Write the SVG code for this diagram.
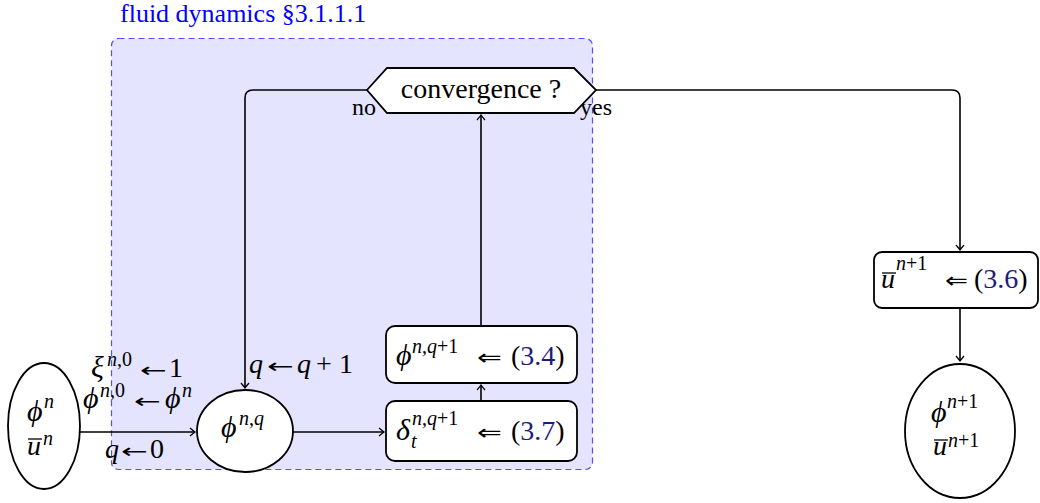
<svg xmlns="http://www.w3.org/2000/svg" width="1040" height="503" viewBox="0 0 1040 503" font-family="'Liberation Serif', 'Times New Roman', serif">
<defs>
<marker id="arr" viewBox="-6 -5 8 10" markerWidth="8" markerHeight="10" refX="0" refY="0" orient="auto" markerUnits="userSpaceOnUse">
<path d="M-5,-4 Q-1.5,-1 0,0 Q-1.5,1 -5,4" fill="none" stroke="#000" stroke-width="1.3"/>
</marker>
</defs>
<style>
text{font-family:"Liberation Serif","Times New Roman",serif;fill:#000}
.t{font-size:28px}
.g{font-size:30px;font-style:italic}
.i{font-style:italic}
.s{font-size:20px}
.a{font-family:"DejaVu Sans",sans-serif;font-size:22px}
.b{font-family:"DejaVu Sans",sans-serif;font-size:20px}
.ref{fill:#1c1c80}
.ln{fill:none;stroke:#000;stroke-width:1.6}
.ob{fill:#fff;stroke:#000;stroke-width:1.8}
.ol{stroke:#000;stroke-width:1.3}
</style>
<rect width="1040" height="503" fill="#fff"/>
<g id="cluster">
<rect x="111.5" y="38.5" width="481" height="431" rx="7" fill="#e4e4ff" stroke="#5050ff" stroke-width="1.2" stroke-dasharray="6,4"/>
<text x="120" y="22" style="font-size:26px;fill:#0000ff">fluid dynamics §3.1.1.1</text>
</g>
<g id="connectors">
<path class="ln" d="M80,432 H195" marker-end="url(#arr)"/>
<path class="ln" d="M367,90 H253 Q245,90 245,98 V388" marker-end="url(#arr)"/>
<path class="ln" d="M293,432 H384" marker-end="url(#arr)"/>
<path class="ln" d="M481,401 V385" marker-end="url(#arr)"/>
<path class="ln" d="M481,326 V115" marker-end="url(#arr)"/>
<path class="ln" d="M596,90 H952 Q960,90 960,98 V250" marker-end="url(#arr)"/>
<path class="ln" d="M960,308 V361" marker-end="url(#arr)"/>
<text x="352" y="115" style="font-size:24px">no</text>
<text x="580" y="115" style="font-size:24px">yes</text>
<text class="t" y="377"><tspan x="91" class="g">ξ</tspan><tspan x="107" y="366" class="s"><tspan class="i">n</tspan>,0</tspan></text>
<text class="b" transform="translate(140,377) scale(1.6,1)">←</text>
<text x="169" y="377" class="t">1</text>
<text class="t" y="408"><tspan x="83" class="g">ϕ</tspan><tspan x="100" y="397" class="s"><tspan class="i">n</tspan>,0</tspan></text>
<text class="b" transform="translate(134,408) scale(1.6,1)">←</text>
<text class="t" y="408"><tspan x="165" class="g">ϕ</tspan><tspan x="182" y="397" class="i s">n</tspan></text>
<text x="105" y="458" class="t i">q</text>
<text class="b" transform="translate(121,458) scale(1.6,1)">←</text>
<text x="150" y="458" class="t">0</text>
<text x="249" y="373" class="t i">q</text>
<text class="b" transform="translate(267,373) scale(1.6,1)">←</text>
<text class="t" y="373"><tspan x="297" class="i">q</tspan><tspan x="316">+</tspan><tspan x="339">1</tspan></text>
</g>
<g id="n0">
<ellipse cx="44" cy="426" rx="36" ry="63" class="ob"/>
<text class="t" y="421"><tspan x="27" class="g">ϕ</tspan><tspan x="44" y="408" class="i s">n</tspan></text>
<text class="t" y="455"><tspan x="27" class="i">u</tspan><tspan x="43" y="445" class="i s">n</tspan></text>
<line x1="28" y1="439" x2="42" y2="439" class="ol"/>
</g>
<g id="nq">
<ellipse cx="245" cy="431" rx="48" ry="41" class="ob"/>
<text class="t" y="437"><tspan x="221" class="g">ϕ</tspan><tspan x="239" y="425" class="s"><tspan class="i">n</tspan>,<tspan class="i">q</tspan></tspan></text>
</g>
<g id="delta">
<rect x="386" y="401" width="191" height="60" rx="9" class="ob"/>
<text x="396" y="440" class="g">δ</text>
<text x="411" y="448" class="i s">t</text>
<text x="412" y="425" class="s"><tspan class="i">n</tspan>,<tspan class="i">q</tspan>+1</text>
<text class="a" transform="translate(477,440) scale(1.35,1)">⇐</text>
<text x="511" y="440" class="t">(<tspan class="ref">3.7</tspan>)</text>
</g>
<g id="phiq1">
<rect x="386" y="326" width="191" height="57" rx="9" class="ob"/>
<text x="396" y="365" class="g">ϕ</text>
<text x="412" y="353" class="s"><tspan class="i">n</tspan>,<tspan class="i">q</tspan>+1</text>
<text class="a" transform="translate(477,365) scale(1.35,1)">⇐</text>
<text x="511" y="365" class="t">(<tspan class="ref">3.4</tspan>)</text>
</g>
<g id="conv">
<polygon points="367,90 387,68 574,68 596,90 574,113 387,113" class="ob" stroke-width="1.3"/>
<text x="481" y="98" class="t" text-anchor="middle">convergence ?</text>
</g>
<g id="u1">
<rect x="874" y="252" width="164" height="56" rx="8" class="ob"/>
<text x="881" y="288" class="t i">u</text>
<text x="896" y="270" class="s"><tspan class="i">n</tspan>+1</text>
<line x1="882" y1="273" x2="896" y2="273" class="ol"/>
<text class="a" transform="translate(945,288) scale(1.25,1)">⇐</text>
<text x="974" y="288" class="t">(<tspan class="ref">3.6</tspan>)</text>
</g>
<g id="n1">
<ellipse cx="960" cy="431" rx="55" ry="67" class="ob"/>
<text x="931" y="422" class="g">ϕ</text>
<text x="947" y="408" class="s"><tspan class="i">n</tspan>+1</text>
<text x="933" y="455" class="t i">u</text>
<text x="948" y="447" class="s"><tspan class="i">n</tspan>+1</text>
<line x1="934" y1="440" x2="948" y2="440" class="ol"/>
</g>
</svg>
